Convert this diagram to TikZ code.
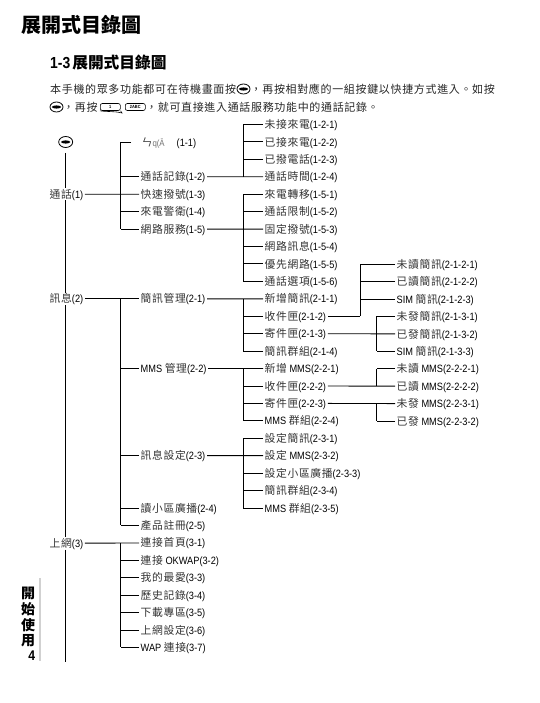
\documentclass[tikz,border=0pt]{standalone}
\usepackage{fontspec}
\setmainfont[FakeStretch=0.87]{Liberation Sans}
\newfontfamily\cjk[LetterSpace=6]{Noto Sans CJK TC}
\newfontfamily\cjkhead{Noto Sans CJK TC}
\usepackage{xcolor}
\usepackage{tikz}
\usetikzlibrary{shapes.geometric, positioning}
\newcommand{\zh}[1]{{\fontsize{10.8}{10.8}\cjk\selectfont\color{black!80}#1}}
\tikzset{
  item/.style={anchor=west, inner xsep=1.5pt, inner ysep=1pt, text height=9.2pt, text depth=1pt, font=\fontsize{10.6}{10.6}\selectfont},
  rowbelow/.style={below=17.43pt of #1.west, anchor=west},
  link/.style={line width=0.9pt, black},
  intro/.style={anchor=west, inner sep=0pt, font=\fontsize{11}{11}\cjk\selectfont, text=black!85},
  tabchar/.style={inner sep=0pt, font=\fontsize{14}{14}\cjkhead\bfseries\selectfont},
  menukey/.style={ellipse, draw, line width=0.8pt, minimum width=14pt, minimum height=11pt, inner sep=0pt,
    path picture={\fill (path picture bounding box.center) ellipse (4.6pt and 1.6pt);}},
  phonekey/.style={rounded corners=2pt, draw, line width=0.6pt, inner sep=0pt, minimum width=20pt, minimum height=7pt, font=\fontsize{4.5}{4.5}\bfseries\selectfont}
}
\begin{document}
\begin{tikzpicture}[x=1pt, y=-1pt]
    \useasboundingbox (0,0) rectangle (539,703);

    % headings
    \node (title) [anchor=west, inner sep=0pt, font=\fontsize{20}{20}\cjkhead\bfseries\selectfont] at (21,25) {展開式目錄圖};
    \node (section) [anchor=west, inner sep=0pt, font=\fontsize{16}{16}\bfseries\selectfont] at (50,63) {1-3\kern2pt{\fontsize{15.7}{15.7}\cjkhead\bfseries\selectfont 展開式目錄圖}};

    % intro text
    \node (introa) [intro] at (50,89) {本手機的眾多功能都可在待機畫面按};
    \node (keya) [menukey, minimum width=13pt, minimum height=10pt] at (243.5,89) {};
    \node (introb) [intro] at (250.5,89) {，再按相對應的一組按鍵以快捷方式進入。如按};
    \node (keyb) [menukey, minimum width=13pt, minimum height=10pt] at (56.5,107) {};
    \node (introc) [intro] at (63,107) {，再按};
    \node (keyc) [phonekey, anchor=west] at (100,107) {1};
    \node (keyd) [phonekey, anchor=west] at (125,107) {2ABC};
    \draw [line width=0.6pt] (keyc.south west) .. controls (108,112) and (114,111) .. (122,113) -- (keyc.south east);
    \node (introd) [intro] at (146,107) {，就可直接進入通話服務功能中的通話記錄。};

    % first column
    \node (menu) [menukey] at (65.7,142) {};
    \node (call) [item] at (48,194.2) {\zh{通話}(1)};
    \node (msg) [item] at (48,298.8) {\zh{訊息}(2)};
    \node (web) [item] at (48,543.2) {\zh{上網}(3)};
    \coordinate (mainEnd) at (65.7,661.7);

    % second column
    \node (n11) [item] at (131,142) {\hspace*{9pt}\makebox[35pt][l]{\fontsize{9}{9}\selectfont\color{black!55}\zh{ㄣ}q(Ā}(1-1)};
    \node (n12) [item] at (139,176.8) {\zh{通話記錄}(1-2)};
    \node (n13) [item, rowbelow=n12] {\zh{快速撥號}(1-3)};
    \node (n14) [item, rowbelow=n13] {\zh{來電警衛}(1-4)};
    \node (n15) [item, rowbelow=n14] {\zh{網路服務}(1-5)};
    \node (n21) [item] at (139,298.8) {\zh{簡訊管理}(2-1)};
    \node (n22) [item] at (139,368.5) {MMS \zh{管理}(2-2)};
    \node (n23) [item] at (139,455.7) {\zh{訊息設定}(2-3)};
    \node (n24) [item] at (139,508) {\zh{讀小區廣播}(2-4)};
    \node (n25) [item, rowbelow=n24] {\zh{產品註冊}(2-5)};
    \node (n31) [item, rowbelow=n25] {\zh{連接首頁}(3-1)};
    \node (n32) [item, rowbelow=n31] {\zh{連接} OKWAP(3-2)};
    \node (n33) [item, rowbelow=n32] {\zh{我的最愛}(3-3)};
    \node (n34) [item, rowbelow=n33] {\zh{歷史記錄}(3-4)};
    \node (n35) [item, rowbelow=n34] {\zh{下載專區}(3-5)};
    \node (n36) [item, rowbelow=n35] {\zh{上網設定}(3-6)};
    \node (n37) [item, rowbelow=n36] {WAP \zh{連接}(3-7)};

    % third column
    \node (n121) [item] at (263,124.5) {\zh{未接來電}(1-2-1)};
    \node (n122) [item, rowbelow=n121] {\zh{已接來電}(1-2-2)};
    \node (n123) [item, rowbelow=n122] {\zh{已撥電話}(1-2-3)};
    \node (n124) [item, rowbelow=n123] {\zh{通話時間}(1-2-4)};
    \node (n151) [item, rowbelow=n124] {\zh{來電轉移}(1-5-1)};
    \node (n152) [item, rowbelow=n151] {\zh{通話限制}(1-5-2)};
    \node (n153) [item, rowbelow=n152] {\zh{固定撥號}(1-5-3)};
    \node (n154) [item, rowbelow=n153] {\zh{網路訊息}(1-5-4)};
    \node (n155) [item, rowbelow=n154] {\zh{優先網路}(1-5-5)};
    \node (n156) [item, rowbelow=n155] {\zh{通話選項}(1-5-6)};
    \node (n211) [item, rowbelow=n156] {\zh{新增簡訊}(2-1-1)};
    \node (n212) [item, rowbelow=n211] {\zh{收件匣}(2-1-2)};
    \node (n213) [item, rowbelow=n212] {\zh{寄件匣}(2-1-3)};
    \node (n214) [item, rowbelow=n213] {\zh{簡訊群組}(2-1-4)};
    \node (n221) [item, rowbelow=n214] {\zh{新增} MMS(2-2-1)};
    \node (n222) [item, rowbelow=n221] {\zh{收件匣}(2-2-2)};
    \node (n223) [item, rowbelow=n222] {\zh{寄件匣}(2-2-3)};
    \node (n224) [item, rowbelow=n223] {MMS \zh{群組}(2-2-4)};
    \node (n231) [item, rowbelow=n224] {\zh{設定簡訊}(2-3-1)};
    \node (n232) [item, rowbelow=n231] {\zh{設定} MMS(2-3-2)};
    \node (n233) [item, rowbelow=n232] {\zh{設定小區廣播}(2-3-3)};
    \node (n234) [item, rowbelow=n233] {\zh{簡訊群組}(2-3-4)};
    \node (n235) [item, rowbelow=n234] {MMS \zh{群組}(2-3-5)};

    % fourth column
    \node (n2121) [item] at (395,264.2) {\zh{未讀簡訊}(2-1-2-1)};
    \node (n2122) [item, rowbelow=n2121] {\zh{已讀簡訊}(2-1-2-2)};
    \node (n2123) [item, rowbelow=n2122] {SIM \zh{簡訊}(2-1-2-3)};
    \node (n2131) [item, rowbelow=n2123] {\zh{未發簡訊}(2-1-3-1)};
    \node (n2132) [item, rowbelow=n2131] {\zh{已發簡訊}(2-1-3-2)};
    \node (n2133) [item, rowbelow=n2132] {SIM \zh{簡訊}(2-1-3-3)};
    \node (n2221) [item, rowbelow=n2133] {\zh{未讀} MMS(2-2-2-1)};
    \node (n2222) [item, rowbelow=n2221] {\zh{已讀} MMS(2-2-2-2)};
    \node (n2231) [item, rowbelow=n2222] {\zh{未發} MMS(2-2-3-1)};
    \node (n2232) [item, rowbelow=n2231] {\zh{已發} MMS(2-2-3-2)};

    % trunks
    \coordinate (busB) at (120.7,0);
    \coordinate (busC) at (243.3,0);
    \coordinate (busD) at (360,0);
    \coordinate (busE) at (376.7,0);

    \draw [link, shorten <=5pt] (menu) -- (menu |- call.north);
    \draw [link] (menu |- call.south) -- (menu |- msg.north);
    \draw [link] (menu |- msg.south) -- (menu |- web.north);
    \draw [link] (menu |- web.south) -- (mainEnd);

    \draw [link] (call) -- (n13);
    \draw [link] (msg) -- (n21);
    \draw [link] (web) -- (n31);
    \draw [link] (n12) -- (n124);
    \draw [link] (n15) -- (n153);
    \draw [link] (n21) -- (n211);
    \draw [link] (n22) -- (n221);
    \draw [link] (n23) -- (n232);
    \draw [link] (n213) -- (n2132);
    \draw [link] (n222) -- (n2222);
    \draw [link] (n223) -- (n2231);

    % branches
    \foreach \n in {n11,n12,n14,n15,n22,n23,n24,n25,n32,n33,n34,n35,n36,n37}
        \draw [link] (\n) -- (\n -| busB);
    \foreach \n in {n121,n122,n123,n151,n152,n154,n155,n156,n212,n214,n224,n231,n233,n234,n235}
        \draw [link] (\n) -- (\n -| busC);
    \draw [link] (n213.west) -- (n213 -| busC);
    \draw [link] (n222.west) -- (n222 -| busC);
    \draw [link] (n223.west) -- (n223 -| busC);
    \foreach \n in {n2121,n2122,n2123}
        \draw [link] (\n) -- (\n -| busD);
    \foreach \n in {n2131,n2133,n2221,n2232}
        \draw [link] (\n) -- (\n -| busE);
    \draw [link] (n212) -- (n212 -| busD);

    \draw [link] (n11 -| busB) -- (n15 -| busB);
    \draw [link] (n21 -| busB) -- (n25 -| busB);
    \draw [link] (n31 -| busB) -- (n37 -| busB);
    \draw [link] (n121 -| busC) -- (n124 -| busC);
    \draw [link] (n151 -| busC) -- (n156 -| busC);
    \draw [link] (n211 -| busC) -- (n214 -| busC);
    \draw [link] (n221 -| busC) -- (n224 -| busC);
    \draw [link] (n231 -| busC) -- (n235 -| busC);
    \draw [link] (n2121 -| busD) -- (n212 -| busD);
    \draw [link] (n2131 -| busE) -- (n2133 -| busE);
    \draw [link] (n2221 -| busE) -- (n2222 -| busE);
    \draw [link] (n2231 -| busE) -- (n2232 -| busE);

    % side tab
    \fill [black!18] (38.5,578) rectangle (40.5,661);
    \node (tabA) [tabchar] at (28,593) {開};
    \node (tabB) [tabchar] at (28,609) {始};
    \node (tabC) [tabchar] at (28,625) {使};
    \node (tabD) [tabchar] at (28,641) {用};
    \node (tabE) [inner sep=0pt, font=\fontsize{14}{14}\bfseries\selectfont] at (31.7,656) {4};
\end{tikzpicture}
\end{document}
